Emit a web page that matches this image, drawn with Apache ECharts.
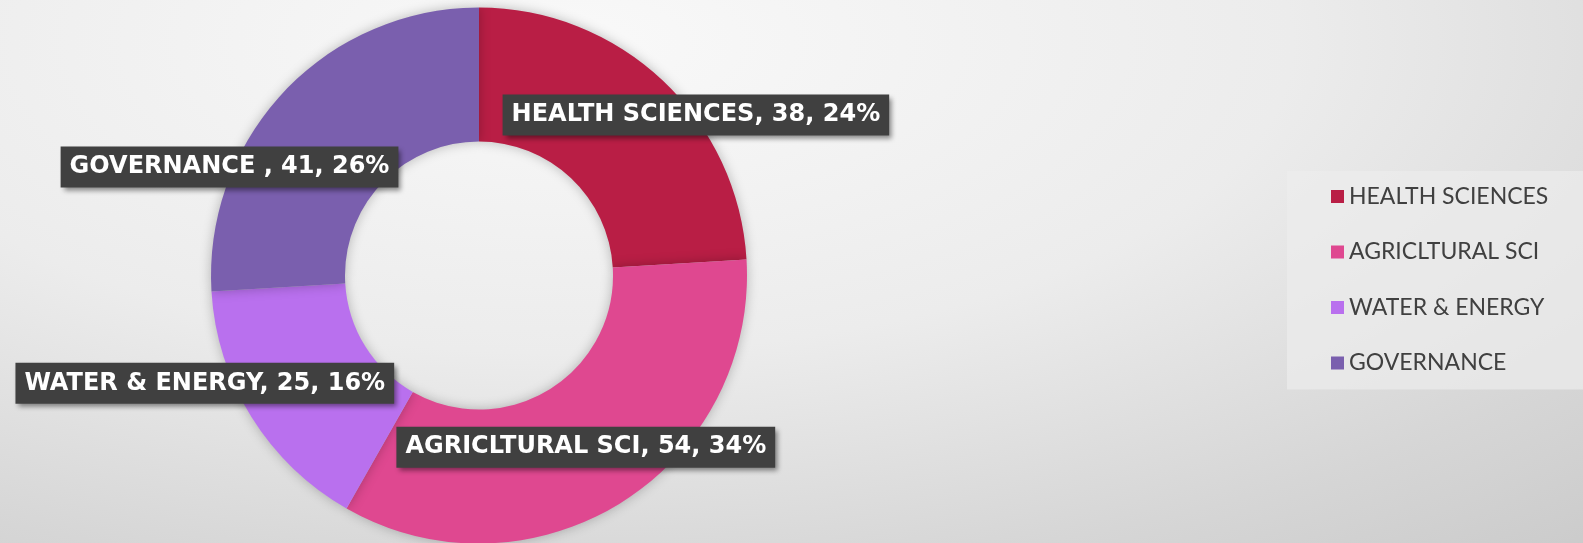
<!DOCTYPE html>
<html>
<head>
<meta charset="utf-8">
<script src="https://cdn.jsdelivr.net/npm/echarts@6/dist/echarts.min.js"></script>
<style>
  html, body { margin: 0; padding: 0; }
  body {
    width: 1583px; height: 543px; overflow: hidden;
    background: radial-gradient(ellipse 120% 150% at 36% 8%, #f9f9f9 0%, #ececec 38%, #d6d6d6 66%, #bfbfbf 100%);
  }
  #chart { width: 1583px; height: 543px; }
</style>
</head>
<body>
<div id="chart"></div>
<script>
// ---- data ----
const categories = ['HEALTH SCIENCES', 'AGRICLTURAL SCI', 'WATER & ENERGY', 'GOVERNANCE '];
const values = [38, 54, 25, 41];
const colors = ['#b91e45', '#df4890', '#b970ee', '#7a5fae'];

// ---- label placement offsets (style) ----
const labelOffsets = [[77, -12], [-1, -1.5], [-101, 0], [-101, 31.5]];

const chart = echarts.init(document.getElementById('chart'), null, { renderer: 'canvas' });

const pieData = categories.map((name, i) => ({
  name: name,
  value: values[i],
  itemStyle: { color: colors[i] },
  label: { offset: labelOffsets[i] }
}));

chart.setOption({
  backgroundColor: 'transparent',
  animation: false,
  legend: {
    orient: 'vertical',
    left: 1287,
    top: 171,
    padding: [14, 40, 15, 44],
    backgroundColor: 'rgba(236,236,236,0.7)',
    itemWidth: 13,
    itemHeight: 13,
    itemGap: 32.5,
    icon: 'rect',
    data: categories,
    textStyle: {
      fontFamily: 'Lato',
      fontSize: 23,
      color: '#404040'
    }
  },
  series: [{
    type: 'pie',
    center: [479, 275.5],
    radius: [134, 268],
    startAngle: 90,
    clockwise: true,
    percentPrecision: 0,
    avoidLabelOverlap: false,
    itemStyle: {
      shadowBlur: 12,
      shadowColor: 'rgba(0,0,0,0.25)'
    },
    label: {
      show: true,
      position: 'inside',
      formatter: '{b}, {c}, {d}%',
      fontFamily: 'DejaVu Sans',
      fontWeight: 'bold',
      fontSize: 24,
      color: '#ffffff',
      backgroundColor: '#404040',
      padding: [8, 9, 9, 9],
      shadowColor: 'rgba(0,0,0,0.45)',
      shadowBlur: 5,
      shadowOffsetX: 3,
      shadowOffsetY: 3
    },
    labelLine: { show: false },
    emphasis: { disabled: true },
    data: pieData
  }]
});
</script>
</body>
</html>
